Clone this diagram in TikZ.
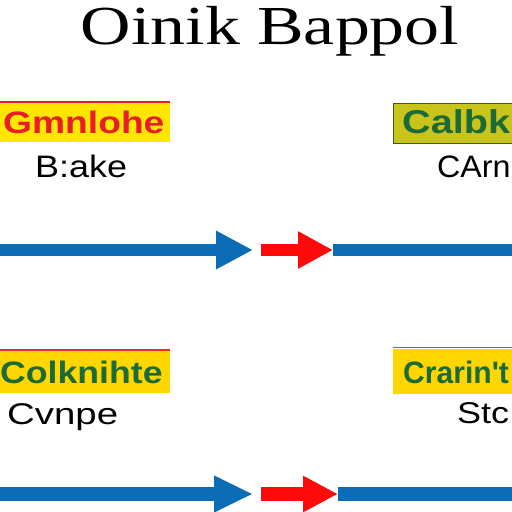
\documentclass[tikz,border=0pt]{standalone}
\usepackage{fontspec}
\setmainfont{Liberation Serif}
\setsansfont{Liberation Sans}
\usetikzlibrary{arrows.meta}
\definecolor{ablue}{HTML}{0A6CB4}
\definecolor{ared}{HTML}{FF0A0A}
\definecolor{tred}{HTML}{E81C2A}
\definecolor{tgreen}{HTML}{1B6A38}
\definecolor{yel1}{HTML}{FFE600}
\definecolor{yel2}{HTML}{C8C41C}
\definecolor{yel3}{HTML}{FFD600}
\definecolor{edge2}{HTML}{3F5A20}
\definecolor{edge4}{HTML}{5A6F90}
\tikzset{
  boxtxt/.style={inner sep=0pt, anchor=base west, font=\sffamily\bfseries\fontsize{31}{31}\selectfont},
  lbl/.style={inner sep=0pt, anchor=base west, text=black, font=\sffamily\fontsize{31}{31}\selectfont},
  bluearrow/.style={draw=ablue, line width=12pt},
  redarrow/.style={draw=ared, line width=12pt},
}
\begin{document}
\begin{tikzpicture}[x=1pt,y=-1pt]
\useasboundingbox (0,0) rectangle (512,512);
\clip (0,0) rectangle (512,512);
\fill[white] (0,0) rectangle (512,512);

% title
\node[inner sep=0pt, anchor=base, text height=38pt, text depth=14pt, font=\fontsize{55}{55}\selectfont] (title) at (270,44) {\scalebox{1.27}[1]{Oinik Bappol}};

% top left box
\path[fill=yel1] (-2,103) rectangle (170,142);
\draw[tred, line width=1.5pt] (-2,102) -- (170,102);
\node[boxtxt, text=tred] (t1) at (3,133) {\scalebox{1.2}[1]{Gmnlohe}};
\node[lbl] (l1) at (35,177) {\scalebox{1.16}[1]{B:ake}};

% top right box
\path[fill=yel2, draw=edge2, line width=1pt] (393,103) rectangle (520,143);
\node[boxtxt, text=tgreen, font=\sffamily\bfseries\fontsize{33}{33}\selectfont] (t2) at (402,133) {\scalebox{1.2}[1]{Calbk}};
\node[lbl] (l2) at (437,177) {\scalebox{1.04}[1]{CArn}};

% row 1 arrows
\coordinate (a1s) at (-5,250);
\coordinate (a1e) at (253,250);
\coordinate (r1s) at (261,250);
\coordinate (r1e) at (333,250);
\coordinate (b1e) at (520,250);
\draw[bluearrow, -{Triangle[length=37pt,width=36pt]}] (a1s) -- (a1e);
\draw[redarrow, -{Triangle[length=35pt,width=35pt]}] (r1s) -- (r1e);
\draw[bluearrow] (r1e) -- (b1e);

% bottom left box
\path[fill=yel3] (-2,351) rectangle (170,393);
\draw[tred!80!orange, line width=1.2pt] (-2,350) -- (170,350);
\node[boxtxt, text=tgreen] (t3) at (0,383) {\scalebox{1.15}[1]{Colknihte}};
\node[lbl, font=\sffamily\fontsize{30}{30}\selectfont] (l3) at (7,424) {\scalebox{1.28}[1]{Cvnpe}};

% bottom right box
\path[fill=yel3] (393,349) rectangle (520,394);
\draw[edge4, line width=1.5pt] (393,347.5) -- (520,347.5);
\node[boxtxt, text=tgreen] (t4) at (403,383) {\scalebox{0.97}[1]{Crarin\textquotesingle t}};
\node[lbl, font=\sffamily\fontsize{30}{30}\selectfont] (l4) at (457,423) {\scalebox{1.2}[1]{Stc}};

% row 2 arrows
\coordinate (a2s) at (-5,494);
\coordinate (a2e) at (253,494);
\coordinate (r2s) at (261,494);
\coordinate (r2e) at (338,494);
\coordinate (b2e) at (520,494);
\draw[bluearrow, line width=14pt, -{Triangle[length=39pt,width=34pt]}] (a2s) -- (a2e);
\draw[redarrow, line width=14pt, -{Triangle[length=35pt,width=34pt]}] (r2s) -- (r2e);
\draw[bluearrow, line width=14pt] (r2e) -- (b2e);
\end{tikzpicture}
\end{document}
